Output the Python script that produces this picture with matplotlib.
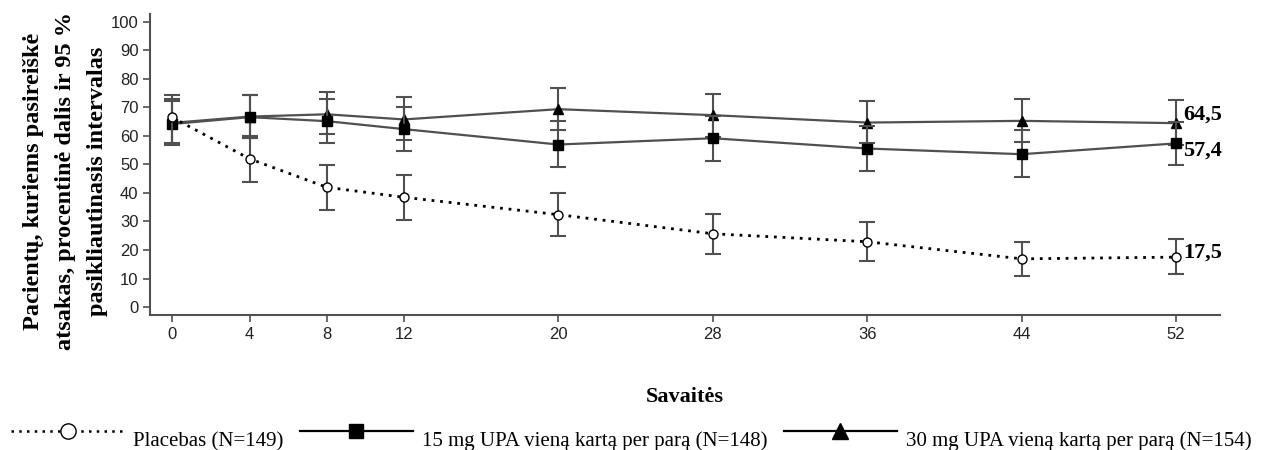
import matplotlib
matplotlib.use('Agg')
import matplotlib.pyplot as plt
from matplotlib.lines import Line2D
from matplotlib.transforms import Affine2D
import numpy as np

weeks = [0, 4, 8, 12, 20, 28, 36, 44, 52]

placebo = [66.5, 52.0, 42.0, 38.5, 32.4, 25.7, 22.9, 16.9, 17.5]
placebo_lo = [57.5, 44.0, 33.9, 30.6, 25.0, 18.7, 16.1, 10.9, 11.5]
placebo_hi = [74.4, 60.0, 49.8, 46.2, 40.0, 32.6, 29.7, 22.8, 23.8]

upa15 = [64.2, 66.6, 65.2, 62.4, 57.0, 59.2, 55.6, 53.6, 57.4]
upa15_lo = [57.3, 59.2, 57.6, 54.7, 49.0, 51.3, 47.8, 45.7, 49.8]
upa15_hi = [72.4, 74.2, 72.9, 70.3, 65.3, 67.0, 63.5, 62.0, 65.0]

upa30 = [64.6, 66.8, 67.6, 65.8, 69.4, 67.3, 64.7, 65.3, 64.5]
upa30_lo = [57.0, 59.4, 60.6, 58.5, 62.0, 59.8, 57.4, 57.9, 57.0]
upa30_hi = [73.0, 74.2, 75.5, 73.5, 76.7, 74.8, 72.3, 72.9, 72.5]

labels = ['Placebas (N=149)', '15 mg UPA vieną kartą per parą (N=148)',
          '30 mg UPA vieną kartą per parą (N=154)']
end_labels = ['17,5', '57,4', '64,5']

serif = 'Liberation Serif'
sans = 'Liberation Sans'

fig = plt.figure(figsize=(12.63, 4.5), dpi=100)
ax = fig.add_axes([0.119, 0.30, 0.847, 0.669])

grey = '#505050'
dots = (0, (1, 2.1))


def draw(y, lo, hi, ls, marker, mfc, ms, color, lw, z):
    y = np.array(y)
    err = [y - np.array(lo), np.array(hi) - y]
    ax.errorbar(weeks, y, yerr=err, fmt='none', ecolor=grey, elinewidth=1.5,
                capsize=6, capthick=1.5, zorder=z)
    ax.plot(weeks, y, linestyle=ls, color=color, lw=lw, zorder=z + 0.1)
    ax.plot(weeks, y, linestyle='none', marker=marker, mfc=mfc, mec='black',
            mew=1.0, ms=ms, zorder=z + 0.2)


draw(upa30, upa30_lo, upa30_hi, '-', '^', 'black', 7.5, grey, 1.6, 2)
draw(upa15, upa15_lo, upa15_hi, '-', 's', 'black', 6.5, grey, 1.6, 3)
draw(placebo, placebo_lo, placebo_hi, dots, 'o', 'white', 6.5, 'black', 2.0, 4)

offsets = {'17,5': 1.5, '57,4': -2.6, '64,5': 3.0}
for val, txt in zip([placebo[-1], upa15[-1], upa30[-1]], end_labels):
    ax.text(52.35, val + offsets[txt], txt, fontfamily=serif, fontweight='bold',
            fontsize=16, va='center', ha='left')

ax.set_xlim(-1.14, 54.28)
ax.set_ylim(-2.8, 102.8)
ax.set_xticks(weeks)
ax.set_yticks(range(0, 101, 10))
ax.tick_params(labelsize=12, length=5, width=1.2, color=grey, labelcolor='#222222')
for lab in ax.get_xticklabels() + ax.get_yticklabels():
    lab.set_fontfamily(sans)
for s in ['top', 'right']:
    ax.spines[s].set_visible(False)
for s in ['left', 'bottom']:
    ax.spines[s].set_color(grey)
    ax.spines[s].set_linewidth(1.5)

fig.text(0.052, 0.598, 'Pacientų, kuriems pasireiškė\natsakas, procentinė dalis ir 95 %\npasikliautinasis intervalas',
         rotation=90, ha='center', va='center', ma='center', fontfamily=serif,
         fontweight='bold', fontsize=17.5, linespacing=1.7)
fig.text(0.542, 0.118, 'Savaitės', ha='center', va='center', fontfamily=serif,
         fontweight='bold', fontsize=16)

handles = [
    Line2D([], [], linestyle=dots, color='black', lw=1.8, marker='o',
           mfc='white', mec='black', ms=11),
    Line2D([], [], linestyle='-', color='black', lw=1.6, marker='s',
           mfc='black', mec='black', ms=10),
    Line2D([], [], linestyle='-', color='black', lw=1.6, marker='^',
           mfc='black', mec='black', ms=12),
]
leg = fig.legend(handles, labels, loc='lower center', bbox_to_anchor=(0.5, -0.017),
                 ncol=3, frameon=False, handlelength=5.4, handletextpad=0.45,
                 columnspacing=0.8, borderpad=0.2, prop={'family': serif, 'size': 15})
for t in leg.get_texts():
    t.set_transform(t.get_transform() + Affine2D().translate(0, -8))

fig.savefig('out.png', dpi=100)
